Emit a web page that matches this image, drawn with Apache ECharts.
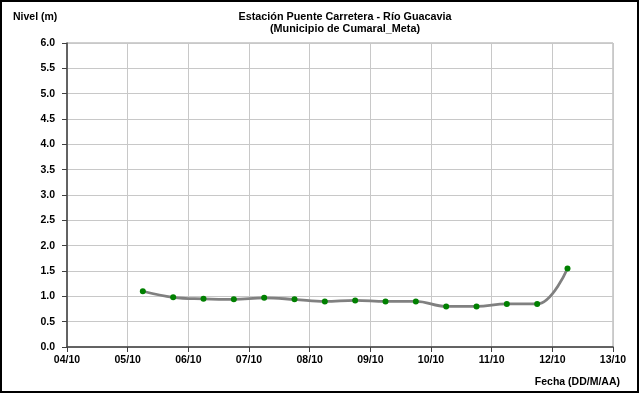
<!DOCTYPE html>
<html><head><meta charset="utf-8">
<script src="https://cdn.jsdelivr.net/npm/echarts@6/dist/echarts.min.js"></script>
<style>html,body{margin:0;padding:0;background:#fff}#c{width:641px;height:394px}</style>
</head><body><div id="c"></div>
<script>
const dates = ['05/10 06:00','05/10 18:00','06/10 06:00','06/10 18:00','07/10 06:00','07/10 18:00','08/10 06:00','08/10 18:00','09/10 06:00','09/10 18:00','10/10 06:00','10/10 18:00','11/10 06:00','11/10 18:00','12/10 06:00'];
const levels = [1.10,0.98,0.95,0.94,0.97,0.94,0.90,0.92,0.90,0.90,0.80,0.80,0.85,0.85,1.55];
const xTickDays = [4,5,6,7,8,9,10,11,12,13];
const yTicks = [0,0.5,1,1.5,2,2.5,3,3.5,4,4.5,5,5.5,6];

function toDay(s){const [d,t]=s.split(' ');const day=parseInt(d.split('/')[0],10);const [h,m]=t.split(':').map(Number);return day+(h+m/60)/24;}
const data = dates.map((d,i)=>[toDay(d),levels[i]]);
const font = 'Liberation Sans, Arial, sans-serif';
const chart = echarts.init(document.getElementById('c'));
chart.setOption({
  animation:false,
  backgroundColor:'#fff',
  title:{text:'Estación Puente Carretera - Río Guacavia\n(Municipio de Cumaral_Meta)',left:340,textAlign:'center',top:6,
    textStyle:{fontFamily:font,fontSize:10.8,fontWeight:'bold',color:'#000',lineHeight:12}},
  grid:{left:67,right:28,top:43,bottom:47},
  xAxis:{type:'value',min:xTickDays[0],max:xTickDays[xTickDays.length-1],interval:1,
    axisLine:{show:true,lineStyle:{color:'#404040',width:1.5}},
    axisTick:{show:true,length:5,lineStyle:{color:'#404040'}},
    axisLabel:{margin:8,fontFamily:font,fontSize:10.5,fontWeight:'bold',color:'#000',
      formatter:v=>String(v).padStart(2,'0')+'/10'},
    splitLine:{show:true,lineStyle:{color:'#c8c8c8',width:1}}},
  yAxis:{type:'value',min:yTicks[0],max:yTicks[yTicks.length-1],interval:0.5,
    axisLine:{show:true,lineStyle:{color:'#404040',width:1.5}},
    axisTick:{show:true,length:5,lineStyle:{color:'#404040'}},
    axisLabel:{margin:12,fontFamily:font,fontSize:10.5,fontWeight:'bold',color:'#000',formatter:v=>v.toFixed(1)},
    splitLine:{show:true,lineStyle:{color:'#c8c8c8',width:1}}},
  graphic:[
    {type:'rect',shape:{x:1,y:1,width:637,height:391},style:{fill:'none',stroke:'#000',lineWidth:2},z:-1},
    {type:'rect',shape:{x:67,y:43,width:546,height:304},style:{fill:'none',stroke:'#a0a0a0',lineWidth:1},z:-1},
    {type:'text',left:13,top:12,style:{text:'Nivel (m)',font:'bold 10.5px '+font,fill:'#000'}},
    {type:'text',right:21,top:377,style:{text:'Fecha (DD/M/AA)',font:'bold 10.5px '+font,fill:'#000'}}
  ],
  series:[{type:'line',data:data,smooth:0.4,
    lineStyle:{color:'#808080',width:2.8},
    symbol:'circle',symbolSize:6,
    itemStyle:{color:'#008000',borderWidth:0}}]
});
</script></body></html>
